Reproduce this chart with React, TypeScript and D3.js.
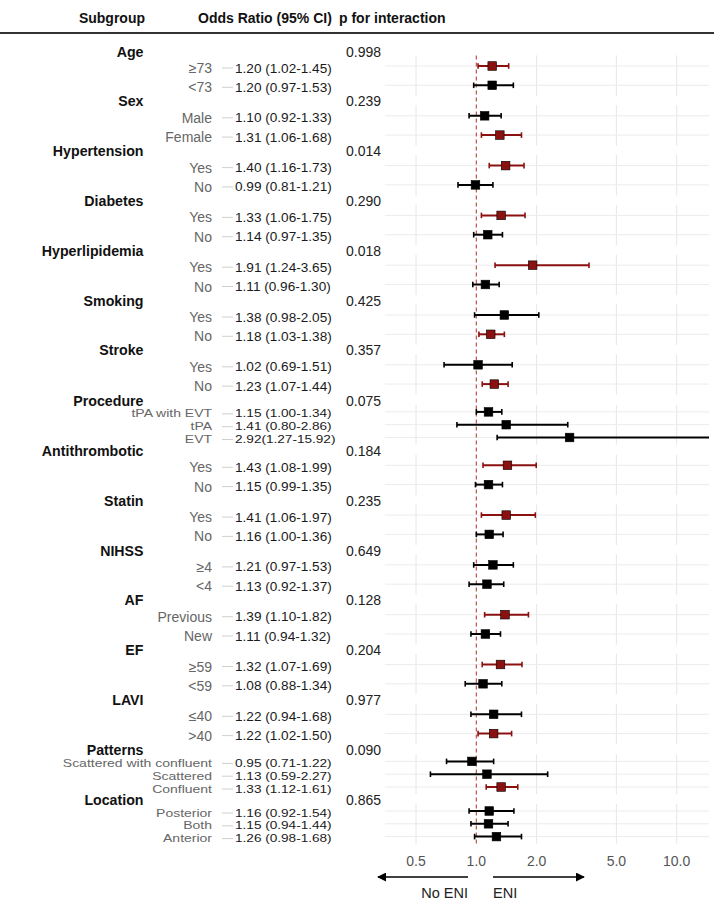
import React from 'react';
import * as d3 from 'd3';

const groupNames = ['Age', 'Sex', 'Hypertension', 'Diabetes', 'Hyperlipidemia', 'Smoking', 'Stroke', 'Procedure',
  'Antithrombotic', 'Statin', 'NIHSS', 'AF', 'EF', 'LAVI', 'Patterns', 'Location'];
const pValues = ['0.998', '0.239', '0.014', '0.290', '0.018', '0.425', '0.357', '0.075',
  '0.184', '0.235', '0.649', '0.128', '0.204', '0.977', '0.090', '0.865'];
const subgroupLabels = [
  ['≥73', '<73'], ['Male', 'Female'], ['Yes', 'No'], ['Yes', 'No'], ['Yes', 'No'], ['Yes', 'No'], ['Yes', 'No'],
  ['tPA with EVT', 'tPA', 'EVT'], ['Yes', 'No'], ['Yes', 'No'], ['≥4', '<4'], ['Previous', 'New'], ['≥59', '<59'],
  ['≤40', '>40'], ['Scattered with confluent', 'Scattered', 'Confluent'], ['Posterior', 'Both', 'Anterior'],
];
const oddsRatios = [
  [1.20, 1.20], [1.10, 1.31], [1.40, 0.99], [1.33, 1.14], [1.91, 1.11], [1.38, 1.18], [1.02, 1.23],
  [1.15, 1.41, 2.92], [1.43, 1.15], [1.41, 1.16], [1.21, 1.13], [1.39, 1.11], [1.32, 1.08],
  [1.22, 1.22], [0.95, 1.13, 1.33], [1.16, 1.15, 1.26],
];
const ciLower = [
  [1.02, 0.97], [0.92, 1.06], [1.16, 0.81], [1.06, 0.97], [1.24, 0.96], [0.98, 1.03], [0.69, 1.07],
  [1.00, 0.80, 1.27], [1.08, 0.99], [1.06, 1.00], [0.97, 0.92], [1.10, 0.94], [1.07, 0.88],
  [0.94, 1.02], [0.71, 0.59, 1.12], [0.92, 0.94, 0.98],
];
const ciUpper = [
  [1.45, 1.53], [1.33, 1.68], [1.73, 1.21], [1.75, 1.35], [3.65, 1.30], [2.05, 1.38], [1.51, 1.44],
  [1.34, 2.86, 15.92], [1.99, 1.35], [1.97, 1.36], [1.53, 1.37], [1.82, 1.32], [1.69, 1.34],
  [1.68, 1.50], [1.22, 2.27, 1.61], [1.54, 1.44, 1.68],
];
const highlighted = [
  [true, false], [false, true], [true, false], [true, false], [true, false], [false, true], [false, true],
  [false, false, false], [true, false], [true, false], [false, false], [true, false], [true, false],
  [false, true], [false, false, true], [false, false, false],
];
const xTicks = [0.5, 1.0, 2.0, 5.0, 10.0];

const W = 714;
const H = 906;
const FONT = "'Liberation Sans', Arial, sans-serif";
const RED = '#8b1010';

// vertical layout: rows inside a group are evenly spaced, groups separated by a gap
const firstRow = 66;
const stepFor = (n: number) => (n === 3 ? 12.8 : 19.3);
const gapFor = (a: number, b: number) => {
  const threes = (a === 3 ? 1 : 0) + (b === 3 ? 1 : 0);
  return threes === 0 ? 30.5 : threes === 1 ? 27.8 : 24;
};

const layout = (() => {
  let y = firstRow;
  return groupNames.map((name, g) => {
    const n = subgroupLabels[g].length;
    if (g > 0) y += gapFor(subgroupLabels[g - 1].length, n);
    const step = stepFor(n);
    const rows = subgroupLabels[g].map((label, i) => ({
      label,
      or: oddsRatios[g][i],
      lo: ciLower[g][i],
      hi: ciUpper[g][i],
      hl: highlighted[g][i],
      y: y + i * step,
    }));
    y = rows[rows.length - 1].y;
    const top = rows[0].y - step * 0.55;
    const bottom = rows[rows.length - 1].y + step * 0.55;
    const center = (rows[0].y + rows[rows.length - 1].y) / 2;
    return { name, p: pValues[g], rows, dense: n === 3, top, bottom, headY: center - 24 };
  });
})();

const fmt = (v: number) => v.toFixed(2);

export default function App() {
  const x = d3.scaleLog().domain([0.35, 14.5]).range([385, 709]);
  const [x0, x1] = x.range();
  const axisY = 861;
  const arrowY = 877;
  const plotTop = layout[0].top;
  const plotBottom = layout[layout.length - 1].bottom;

  return (
    <div style={{ position: 'absolute', left: 0, top: 0, background: '#fff' }}>
      <svg width={W} height={H} style={{ display: 'block', fontFamily: FONT }}>
        <defs>
          <clipPath id="plotClip">
            <rect x={x0} y={0} width={x1 - x0} height={H} />
          </clipPath>
          <marker id="arrowHead" viewBox="0 0 10 10" refX="9" refY="5" markerWidth="6.5" markerHeight="6" orient="auto-start-reverse">
            <path d="M0,0 L10,5 L0,10 z" fill="#000" />
          </marker>
        </defs>
        <rect width={W} height={H} fill="#fff" />

        {/* header */}
        <text x={145} y={18} textAnchor="end" dominantBaseline="central" fontSize={14} fontWeight="bold" fill="#111">Subgroup</text>
        <text x={198} y={18} dominantBaseline="central" fontSize={14} fontWeight="bold" fill="#111">Odds Ratio (95% CI)</text>
        <text x={339} y={18} dominantBaseline="central" fontSize={14} fontWeight="bold" fill="#111">p for interaction</text>
        <line x1={0} x2={W} y1={33} y2={33} stroke="#333" strokeWidth={2} />

        {/* panels: grid */}
        {layout.map((grp, g) => (
          <g key={'grid' + g}>
            {xTicks.filter(t => t !== 1).map(t => (
              <line key={t} x1={x(t)} x2={x(t)} y1={grp.top} y2={grp.bottom} stroke="#e6e6e6" strokeWidth={1} />
            ))}
            {grp.rows.map((r, i) => (
              <line key={i} x1={x0} x2={x1} y1={r.y} y2={r.y} stroke="#ececec" strokeWidth={1} />
            ))}
          </g>
        ))}

        {/* reference line at OR = 1 */}
        <line x1={x(1)} x2={x(1)} y1={plotTop} y2={plotBottom} stroke="#c0504d" strokeWidth={1.2} strokeDasharray="4,3" />

        {/* text columns and marks */}
        {layout.map((grp, g) => (
          <g key={'grp' + g}>
            <text x={143.5} y={grp.headY} textAnchor="end" dominantBaseline="central" fontSize={14.2} fontWeight="bold" fill="#111">{grp.name}</text>
            <text x={346} y={grp.headY} dominantBaseline="central" fontSize={14} fill="#222">{grp.p}</text>
            {grp.rows.map((r, i) => {
              const color = r.hl ? RED : '#000';
              const orText = `${fmt(r.or)}${r.hi >= 10 ? '' : ' '}(${fmt(r.lo)}-${fmt(r.hi)})`;
              const ty = r.y + 2;
              const sy = grp.dense ? 0.8 : 1;
              return (
                <g key={i}>
                  <line x1={222} x2={233} y1={ty} y2={ty} stroke="#d0d0d0" strokeWidth={1} />
                  <text transform={`translate(212,${ty}) scale(1,${sy})`} textAnchor="end" dominantBaseline="central" fontSize={14} fill="#666">{r.label}</text>
                  <text transform={`translate(235,${ty}) scale(1,${sy})`} dominantBaseline="central" fontSize={13.6} fill="#1a1a1a">{orText}</text>
                  <g clipPath="url(#plotClip)">
                    <line x1={x(r.lo)} x2={x(Math.min(r.hi, 20))} y1={r.y} y2={r.y} stroke={color} strokeWidth={2} />
                    <line x1={x(r.lo)} x2={x(r.lo)} y1={r.y - 2.8} y2={r.y + 2.8} stroke={color} strokeWidth={1.6} />
                    {r.hi <= 14.5 && (
                      <line x1={x(r.hi)} x2={x(r.hi)} y1={r.y - 2.8} y2={r.y + 2.8} stroke={color} strokeWidth={1.6} />
                    )}
                    <rect x={x(r.or) - 4.3} y={r.y - 4.3} width={8.6} height={8.6} fill={color} stroke="#000" strokeWidth={0.6} />
                  </g>
                </g>
              );
            })}
          </g>
        ))}

        {/* x axis labels */}
        {xTicks.map(t => (
          <text key={t} x={x(t)} y={axisY} textAnchor="middle" dominantBaseline="central" fontSize={14} fill="#555">{t.toFixed(1)}</text>
        ))}

        {/* direction arrows */}
        <line x1={468} x2={378} y1={arrowY} y2={arrowY} stroke="#000" strokeWidth={1.5} markerEnd="url(#arrowHead)" />
        <line x1={493} x2={584} y1={arrowY} y2={arrowY} stroke="#000" strokeWidth={1.5} markerEnd="url(#arrowHead)" />
        <text x={468} y={893} textAnchor="end" dominantBaseline="central" fontSize={14.5} fill="#222">No ENI</text>
        <text x={493} y={893} dominantBaseline="central" fontSize={14.5} fill="#222">ENI</text>
      </svg>
    </div>
  );
}
